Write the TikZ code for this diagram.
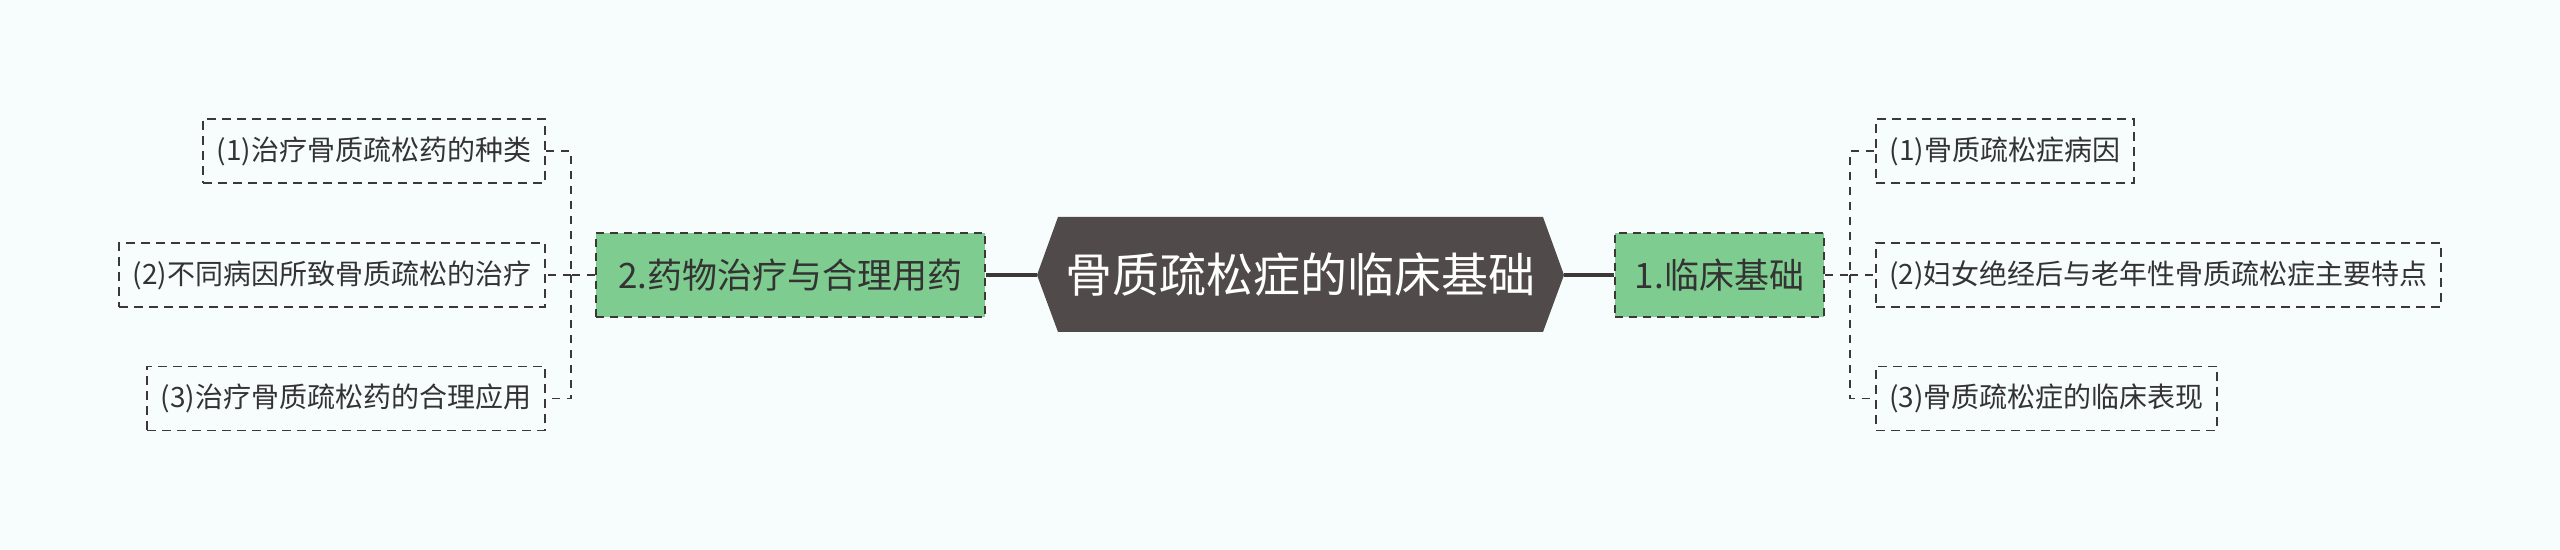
\documentclass[tikz,border=0pt]{standalone}
\usepackage{fontspec}
\newfontfamily\cjk{Noto Sans CJK SC}
\definecolor{bgc}{HTML}{F7FDFD}
\definecolor{hexc}{HTML}{504A4A}
\definecolor{greenc}{HTML}{7ECC8F}
\definecolor{linec}{HTML}{3C3838}
\definecolor{txtc}{HTML}{333333}
\tikzset{
  hexshape/.style={fill=hexc},
  centertext/.style={font=\cjk\fontsize{23.5pt}{28pt}\selectfont, text=white, inner sep=0pt},
  mainbox/.style={draw=linec, fill=greenc, line width=1pt, dash pattern=on 4pt off 3pt,
     font=\cjk\fontsize{17.5pt}{21pt}\selectfont, text=txtc, inner sep=0pt, minimum height=42pt},
  leafbox/.style={draw=linec, line width=0.9pt, dash pattern=on 4.5pt off 3pt,
     font=\cjk\fontsize{14pt}{17pt}\selectfont, text=txtc, inner sep=0pt, minimum height=32pt},
  solidlink/.style={draw=linec, line width=1.7pt},
  dashlink/.style={draw=linec, line width=0.9pt, dash pattern=on 4pt off 3.5pt},
}
\begin{document}
\begin{tikzpicture}[x=0.5pt, y=-0.5pt]
\fill[bgc] (0,0) rectangle (2560,550);
\useasboundingbox (0,0) rectangle (2560,550);
% center hexagon
\coordinate (cw) at (1037,275);
\coordinate (ce) at (1564,275);
\fill[hexshape] (cw) -- (1058,217) -- (1543,217) -- (ce) -- (1543,332) -- (1058,332) -- cycle;
\node[centertext] (c) at (1300.5,275) {骨质疏松症的临床基础};
% main branches
\node[mainbox, minimum width=194.5pt] (g2) at (790.5,275) {2.药物治疗与合理用药};
\node[mainbox, minimum width=104.5pt] (g1) at (1719.5,275) {1.临床基础};
% left leaves
\node[leafbox, minimum width=171pt] (l1) at (374,151) {(1)治疗骨质疏松药的种类};
\node[leafbox, minimum width=213pt] (l2) at (332,275) {(2)不同病因所致骨质疏松的治疗};
\node[leafbox, minimum width=199pt] (l3) at (346,398.5) {(3)治疗骨质疏松药的合理应用};
% right leaves
\node[leafbox, minimum width=129pt] (r1) at (2005,151) {(1)骨质疏松症病因};
\node[leafbox, minimum width=282.5pt] (r2) at (2158.5,275) {(2)妇女绝经后与老年性骨质疏松症主要特点};
\node[leafbox, minimum width=170.5pt] (r3) at (2046.5,398.5) {(3)骨质疏松症的临床表现};
% solid links
\draw[solidlink] (g2.east) -- (cw);
\draw[solidlink] (ce) -- (g1.west);
% dashed links
\coordinate (lj) at (571,275);
\coordinate (rj) at (1850,275);
\draw[dashlink] (g2.west) -- (lj) |- (l1.east);
\draw[dashlink] (lj) -- (l2.east);
\draw[dashlink] (lj) |- (l3.east);
\draw[dashlink] (g1.east) -- (rj) |- (r1.west);
\draw[dashlink] (rj) -- (r2.west);
\draw[dashlink] (rj) |- (r3.west);
\end{tikzpicture}
\end{document}
